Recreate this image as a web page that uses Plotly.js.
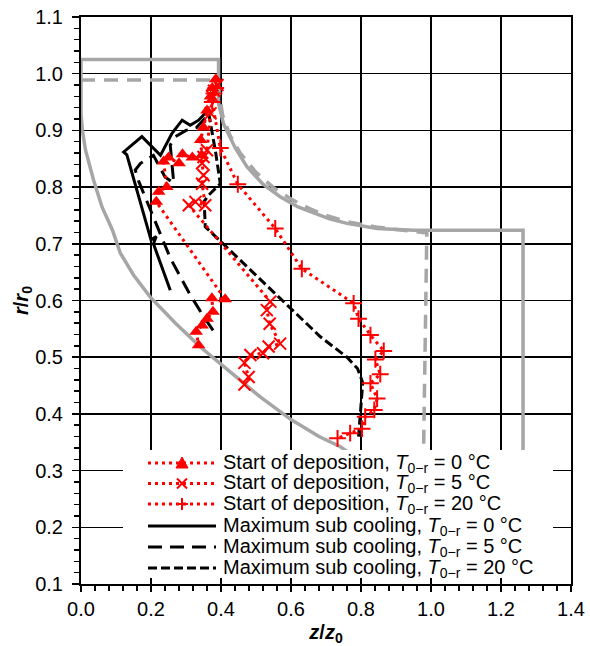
<!DOCTYPE html>
<html>
<head>
<meta charset="utf-8">
<script src="https://cdn.plot.ly/plotly-3.0.1.min.js"></script>
<style>html,body{margin:0;padding:0;background:#fff;}#chart{width:590px;height:646px;}</style>
</head>
<body>
<div id="chart"></div>
<script>
// ---------------- data ----------------
// outline of the solid grey contour
const greySolidX = [0.77,0.741,0.68,0.6,0.512,0.43,0.341,0.27,0.198,0.15,0.112,0.09,0.06,0.036,0.013,0.004,0,0,0.393,0.393,0.407,0.44,0.474,0.52,0.569,0.62,0.665,0.71,0.76,0.846,0.95,1.263,1.263];
const greySolidY = [0.33,0.342,0.36,0.39,0.43,0.472,0.518,0.56,0.606,0.645,0.684,0.724,0.765,0.812,0.865,0.9,0.93,1.025,1.025,0.948,0.912,0.87,0.836,0.805,0.783,0.765,0.754,0.744,0.736,0.727,0.724,0.724,0.3];
// dashed grey contour
const greyDashX = [0,0.39,0.395,0.405,0.425,0.455,0.5,0.55,0.6,0.65,0.7,0.76,0.85,0.988,0.978];
const greyDashY = [0.989,0.989,0.965,0.926,0.892,0.86,0.826,0.799,0.779,0.763,0.75,0.739,0.729,0.719,0.3];

// Maximum sub cooling
const msc0X  = [0.365,0.336,0.312,0.289,0.26,0.227,0.174,0.122,0.131,0.2,0.215,0.207,0.255];
const msc0Y  = [0.937,0.918,0.909,0.918,0.895,0.856,0.889,0.862,0.857,0.707,0.713,0.7,0.618];
const msc5X  = [0.355,0.33,0.3,0.27,0.255,0.26,0.265,0.24,0.207,0.17,0.155,0.165,0.2,0.22,0.255,0.31,0.35,0.39];
const msc5Y  = [0.922,0.905,0.9,0.889,0.874,0.84,0.807,0.818,0.856,0.842,0.83,0.81,0.757,0.725,0.675,0.612,0.572,0.536];
const msc20X = [0.365,0.375,0.385,0.398,0.365,0.352,0.355,0.389,0.5,0.6,0.684,0.76,0.79,0.805,0.8,0.793];
const msc20Y = [0.93,0.895,0.86,0.806,0.786,0.775,0.73,0.71,0.645,0.587,0.536,0.5,0.48,0.455,0.41,0.36];

// Start of deposition
const sod0X  = [0.385,0.375,0.37,0.36,0.35,0.342,0.345,0.318,0.29,0.28,0.25,0.236,0.245,0.222,0.215,0.412,0.374,0.377,0.36,0.346,0.329,0.336];
const sod0Y  = [0.99,0.975,0.96,0.935,0.905,0.883,0.856,0.852,0.858,0.842,0.852,0.845,0.8,0.792,0.774,0.602,0.604,0.58,0.568,0.556,0.545,0.521];
const sod5X  = [0.39,0.38,0.375,0.37,0.36,0.35,0.346,0.35,0.346,0.355,0.327,0.308,0.541,0.531,0.539,0.569,0.536,0.52,0.484,0.467,0.479,0.467];
const sod5Y  = [0.98,0.97,0.96,0.93,0.865,0.853,0.842,0.821,0.806,0.768,0.774,0.768,0.598,0.583,0.559,0.524,0.519,0.507,0.504,0.49,0.465,0.452];
const sod20X = [0.385,0.38,0.375,0.398,0.448,0.555,0.631,0.779,0.793,0.827,0.865,0.841,0.855,0.827,0.846,0.838,0.812,0.803,0.769,0.733];
const sod20Y = [0.975,0.965,0.95,0.869,0.805,0.727,0.656,0.595,0.568,0.539,0.511,0.496,0.47,0.454,0.427,0.407,0.395,0.374,0.366,0.357];

const legendLabels = [
  'Start of deposition, <i>T</i><sub>0\u2212r</sub> = 0 \u00b0C',
  'Start of deposition, <i>T</i><sub>0\u2212r</sub> = 5 \u00b0C',
  'Start of deposition, <i>T</i><sub>0\u2212r</sub> = 20 \u00b0C',
  'Maximum sub cooling, <i>T</i><sub>0\u2212r</sub> = 0 \u00b0C',
  'Maximum sub cooling, <i>T</i><sub>0\u2212r</sub> = 5 \u00b0C',
  'Maximum sub cooling, <i>T</i><sub>0\u2212r</sub> = 20 \u00b0C'
];

// ---------------- styles ----------------
const FONT = 'Liberation Sans, Arial, sans-serif';
const RED = '#ff0000';
const GREY = '#a6a6a6';
const DOT = '3px,4px';
const LONGDASH = '14px,8px';
const SHORTDASH = '9px,4px';

const traces = [
  {x: greySolidX, y: greySolidY, mode: 'lines', line: {color: GREY, width: 3.5}, name: 'grey solid', showlegend: false, hoverinfo: 'skip'},
  {x: greyDashX, y: greyDashY, mode: 'lines', line: {color: GREY, width: 3.5, dash: '14px,9px'}, name: 'grey dashed', showlegend: false, hoverinfo: 'skip'},
  {x: msc0X, y: msc0Y, mode: 'lines', line: {color: '#000', width: 3}, name: legendLabels[3], showlegend: false},
  {x: msc5X, y: msc5Y, mode: 'lines', line: {color: '#000', width: 3, dash: LONGDASH}, name: legendLabels[4], showlegend: false},
  {x: msc20X, y: msc20Y, mode: 'lines', line: {color: '#000', width: 3, dash: SHORTDASH}, name: legendLabels[5], showlegend: false},
  {x: sod0X, y: sod0Y, mode: 'lines+markers', line: {color: RED, width: 3, dash: DOT},
   marker: {symbol: 'triangle-up', size: 12, color: RED}, name: legendLabels[0], showlegend: false},
  {x: sod5X, y: sod5Y, mode: 'lines+markers', line: {color: RED, width: 3, dash: DOT},
   marker: {symbol: 'x-thin-open', size: 12, color: RED, line: {color: RED, width: 2}}, name: legendLabels[1], showlegend: false},
  {x: sod20X, y: sod20Y, mode: 'lines+markers', line: {color: RED, width: 3, dash: DOT},
   marker: {symbol: 'cross-thin-open', size: 12, color: RED, line: {color: RED, width: 2}}, name: legendLabels[2], showlegend: false}
];

// ---------------- legend (drawn in layout space) ----------------
const plotL = 81, plotT = 17, plotW = 490, plotH = 567;
const px2paperX = p => (p - plotL) / plotW;
const px2paperY = p => (plotT + plotH - p) / plotH;
const rowY = [463, 483.5, 504, 526, 547, 568];
const sampleX0 = px2paperX(148), sampleX1 = px2paperX(216), sampleXc = px2paperX(182);
const textX = px2paperX(222);

const sampleStyles = [
  {color: RED, width: 3, dash: DOT, mark: 'tri'},
  {color: RED, width: 3, dash: DOT, mark: 'x'},
  {color: RED, width: 3, dash: DOT, mark: 'plus'},
  {color: '#000', width: 3, dash: 'solid'},
  {color: '#000', width: 3, dash: LONGDASH},
  {color: '#000', width: 3, dash: SHORTDASH}
];

const shapes = [
  {type: 'rect', xref: 'paper', yref: 'paper', x0: px2paperX(123), x1: px2paperX(553),
   y0: px2paperY(578), y1: px2paperY(450), fillcolor: '#fff', line: {width: 0}, layer: 'above'}
];
const annotations = [];
legendLabels.forEach((lab, i) => {
  const yy = px2paperY(rowY[i]);
  const st = sampleStyles[i];
  shapes.push({type: 'line', xref: 'paper', yref: 'paper', x0: sampleX0, x1: sampleX1, y0: yy, y1: yy,
               line: {color: st.color, width: st.width, dash: st.dash}, layer: 'above'});
  if (st.mark) {
    let path;
    if (st.mark === 'tri') path = 'M-6,-5L6,-5L0,6Z';
    else if (st.mark === 'x') path = 'M-5,-5L5,5M-5,5L5,-5';
    else path = 'M-6,0L6,0M0,-6L0,6';
    shapes.push({type: 'path', xref: 'paper', yref: 'paper', xsizemode: 'pixel', ysizemode: 'pixel',
                 xanchor: sampleXc, yanchor: yy, path: path,
                 fillcolor: st.mark === 'tri' ? RED : 'rgba(0,0,0,0)',
                 line: {color: RED, width: st.mark === 'tri' ? 1 : 2}, layer: 'above'});
  }
  annotations.push({xref: 'paper', yref: 'paper', x: textX, y: yy, xanchor: 'left', yanchor: 'middle',
                    text: lab, showarrow: false, font: {family: FONT, size: 20, color: '#000'}, borderpad: 0});
});

const layout = {
  width: 590, height: 646,
  margin: {l: plotL, r: 590 - plotL - plotW, t: plotT, b: 646 - plotT - plotH},
  paper_bgcolor: '#fff', plot_bgcolor: '#fff',
  font: {family: FONT, size: 20, color: '#000'},
  showlegend: false,
  xaxis: {
    range: [0, 1.4], dtick: 0.2, tick0: 0, tickformat: '.1f',
    showgrid: true, gridcolor: '#000', gridwidth: 1.5, zeroline: false,
    showline: true, linecolor: '#000', linewidth: 2, mirror: true,
    ticks: 'outside', ticklen: 6, tickwidth: 1.5, tickcolor: '#000',
    minor: {dtick: 0.04, ticks: 'outside', ticklen: 5, tickwidth: 1.5, tickcolor: '#000', showgrid: false},
    tickfont: {family: FONT, size: 20, color: '#000'},
    title: {text: '<b><i>z</i>/<i>z</i><sub>0</sub></b>', font: {family: FONT, size: 20, color: '#000'}, standoff: 8},
    fixedrange: true
  },
  yaxis: {
    range: [0.1, 1.1], dtick: 0.1, tick0: 0.1, tickformat: '.1f',
    showgrid: true, gridcolor: '#000', gridwidth: 1.5, zeroline: false,
    showline: true, linecolor: '#000', linewidth: 2, mirror: true,
    ticks: 'outside', ticklen: 7, tickwidth: 1.5, tickcolor: '#000',
    minor: {dtick: 0.02, ticks: 'outside', ticklen: 5, tickwidth: 1.5, tickcolor: '#000', showgrid: false},
    tickfont: {family: FONT, size: 20, color: '#000'},
    ticklabelstandoff: 5,
    title: {text: '<b><i>r</i>/<i>r</i><sub>0</sub></b>', font: {family: FONT, size: 20, color: '#000'}, standoff: 0},
    fixedrange: true
  },
  shapes: shapes,
  annotations: annotations
};

Plotly.newPlot('chart', traces, layout, {displayModeBar: false, staticPlot: true});
</script>
</body>
</html>
